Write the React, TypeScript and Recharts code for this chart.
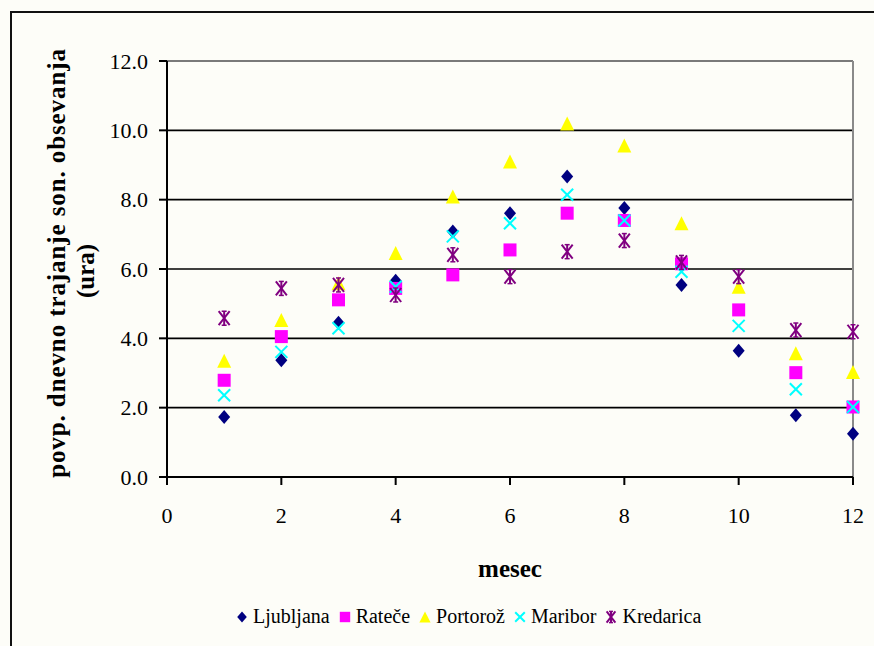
import React from 'react'
import {
  ScatterChart, Scatter, XAxis, YAxis, CartesianGrid, ReferenceLine, Label,
} from 'recharts'

const months = [1, 2, 3, 4, 5, 6, 7, 8, 9, 10, 11, 12]
const ljubljana = [1.73, 3.37, 4.45, 5.66, 7.08, 7.61, 8.67, 7.76, 5.54, 3.64, 1.78, 1.25]
const ratece = [2.79, 4.05, 5.11, 5.44, 5.83, 6.55, 7.61, 7.4, 6.15, 4.82, 3.01, 2.02]
const portoroz = [3.35, 4.53, 5.59, 6.46, 8.09, 9.1, 10.2, 9.56, 7.32, 5.49, 3.57, 3.03]
const maribor = [2.36, 3.61, 4.29, 5.49, 6.94, 7.32, 8.14, 7.4, 5.92, 4.36, 2.53, 2.02]
const kredarica = [4.58, 5.44, 5.54, 5.25, 6.41, 5.78, 6.5, 6.82, 6.19, 5.78, 4.24, 4.19]

const xTicks = [0, 2, 4, 6, 8, 10, 12]
const yTicks = [0, 2, 4, 6, 8, 10, 12]

const FONT = '"Liberation Serif", "Times New Roman", serif'
const BG = '#fdfdf8'

type MarkerKind = 'diamond' | 'square' | 'triangle' | 'cross' | 'star'

function drawMarker(kind: MarkerKind, cx: number, cy: number, color: string, s = 1) {
  if (kind === 'diamond') {
    const w = 6 * s, h = 7 * s
    return <polygon points={`${cx},${cy - h} ${cx + w},${cy} ${cx},${cy + h} ${cx - w},${cy}`} fill={color} />
  }
  if (kind === 'square') {
    const r = 6.5 * s
    return <rect x={cx - r} y={cy - r} width={2 * r} height={2 * r} fill={color} />
  }
  if (kind === 'triangle') {
    const w = 7 * s, h = 7 * s
    return <polygon points={`${cx},${cy - h} ${cx + w},${cy + h} ${cx - w},${cy + h}`} fill={color} />
  }
  if (kind === 'cross') {
    const r = 6 * s
    return (
      <g stroke={color} strokeWidth={2}>
        <line x1={cx - r} y1={cy - r} x2={cx + r} y2={cy + r} />
        <line x1={cx - r} y1={cy + r} x2={cx + r} y2={cy - r} />
      </g>
    )
  }
  // star: asterisk with short caps
  const r = 5.5 * s, h = 7 * s, c = 2.5 * s
  return (
    <g stroke={color} strokeWidth={2}>
      <line x1={cx - r} y1={cy - h} x2={cx + r} y2={cy + h} />
      <line x1={cx - r} y1={cy + h} x2={cx + r} y2={cy - h} />
      <line x1={cx} y1={cy - h} x2={cx} y2={cy + h} />
      <line x1={cx - c} y1={cy - h} x2={cx + c} y2={cy - h} strokeWidth={1.5} />
      <line x1={cx - c} y1={cy + h} x2={cx + c} y2={cy + h} strokeWidth={1.5} />
    </g>
  )
}

const series: { name: string; values: number[]; color: string; kind: MarkerKind }[] = [
  { name: 'Ljubljana', values: ljubljana, color: '#000080', kind: 'diamond' },
  { name: 'Rateče', values: ratece, color: '#ff00ff', kind: 'square' },
  { name: 'Portorož', values: portoroz, color: '#ffff00', kind: 'triangle' },
  { name: 'Maribor', values: maribor, color: '#00ffff', kind: 'cross' },
  { name: 'Kredarica', values: kredarica, color: '#800080', kind: 'star' },
]

function YTitle(props: any) {
  const vb = props.viewBox
  const cy = vb.y + vb.height / 2
  return (
    <g fontFamily={FONT} fontWeight="bold" fontSize={25} fill="#000">
      <text x={56} y={cy - 6} transform={`rotate(-90 56 ${cy - 6})`} textAnchor="middle" dominantBaseline="central" letterSpacing={0.9}>
        povp. dnevno trajanje son. obsevanja
      </text>
      <text x={85} y={cy + 2} transform={`rotate(-90 85 ${cy + 2})`} textAnchor="middle" dominantBaseline="central">
        (ura)
      </text>
    </g>
  )
}

export default function App() {
  return (
    <div style={{ position: 'fixed', left: 0, top: 0, width: 874, height: 646, background: BG, overflow: 'hidden' }}>
      <div style={{ position: 'absolute', left: 10, top: 11, width: 1000, height: 1000, border: '2px solid #111' }} />
      <div style={{ position: 'absolute', left: 0, top: 0 }}>
        <ScatterChart width={874} height={646} margin={{ top: 61, right: 21, bottom: 129, left: 67 }}>
          <CartesianGrid horizontal vertical={false} stroke="#000" strokeWidth={1.6} />
          <XAxis
            type="number" dataKey="x" domain={[0, 12]} ticks={xTicks} interval={0}
            height={40} tickSize={8} tickMargin={22}
            axisLine={{ stroke: '#000', strokeWidth: 2 }} tickLine={{ stroke: '#000', strokeWidth: 2 }}
            tick={{ fill: '#000', fontSize: 22, fontFamily: FONT }}
          >
            <Label value="mesec" position="bottom" offset={42} style={{ fontFamily: FONT, fontSize: 25, fontWeight: 'bold', fill: '#000' }} />
          </XAxis>
          <YAxis
            type="number" dataKey="y" domain={[0, 12]} ticks={yTicks} interval={0}
            width={100} tickSize={8} tickMargin={11}
            tickFormatter={(v: number) => v.toFixed(1)}
            axisLine={{ stroke: '#000', strokeWidth: 2 }} tickLine={{ stroke: '#000', strokeWidth: 2 }}
            tick={{ fill: '#000', fontSize: 22, fontFamily: FONT }}
          >
            <Label content={YTitle} />
          </YAxis>
          <ReferenceLine y={12} stroke="#7a7a7a" strokeWidth={2} />
          <ReferenceLine x={12} stroke="#8a8a8a" strokeWidth={2} />
          {series.map(s => (
            <Scatter
              key={s.name}
              name={s.name}
              data={months.map((m, i) => ({ x: m, y: s.values[i] }))}
              isAnimationActive={false}
              shape={(p: any) => drawMarker(s.kind, p.cx, p.cy, s.color)}
            />
          ))}
        </ScatterChart>
      </div>
      <div style={{
        position: 'absolute', left: 236, top: 605, display: 'flex', alignItems: 'center',
        fontFamily: FONT, fontSize: 20, color: '#000', whiteSpace: 'nowrap',
      }}>
        {series.map(s => (
          <div key={s.name} style={{ display: 'flex', alignItems: 'center', marginRight: 9 }}>
            <svg width={12} height={16} style={{ marginRight: 5 }}>
              {drawMarker(s.kind, 6, 8, s.color, 0.8)}
            </svg>
            <span>{s.name}</span>
          </div>
        ))}
      </div>
    </div>
  )
}
